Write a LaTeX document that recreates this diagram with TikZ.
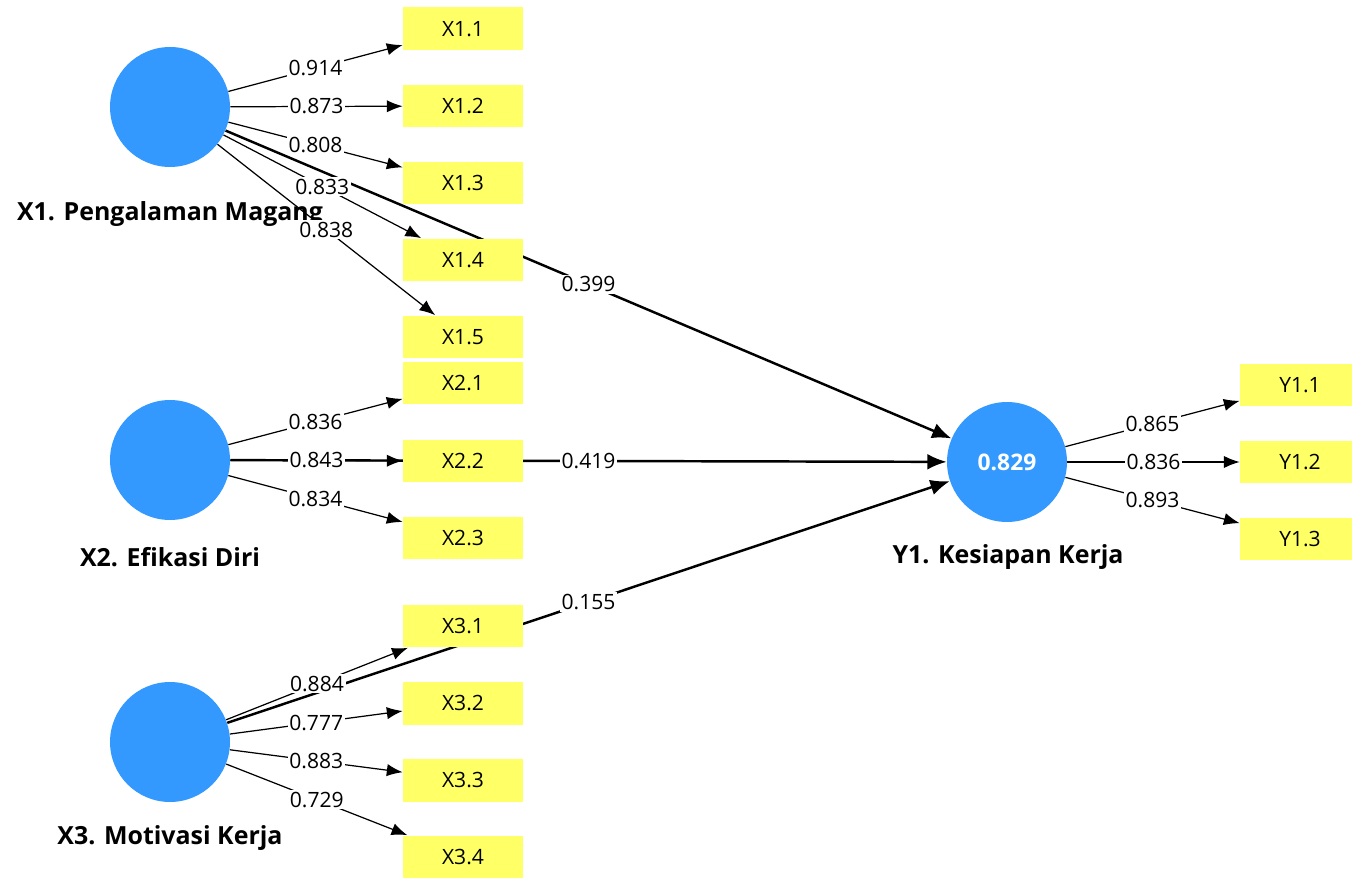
\documentclass[tikz,border=0pt]{standalone}
\usepackage{fontspec}
\setmainfont{Open Sans}
\usetikzlibrary{arrows.meta}
\definecolor{lvblue}{RGB}{51,153,255}
\definecolor{mvyellow}{RGB}{255,255,102}
\pgfdeclarelayer{bg}
\pgfsetlayers{bg,main}
\begin{document}
\begin{tikzpicture}[x=0.02cm,y=-0.02cm,
        latent/.style={circle,fill=lvblue,minimum size=2.4cm,inner sep=0pt,text=white,font=\fontsize{13}{15}\selectfont\bfseries},
        indic/.style={fill=mvyellow,minimum width=2.4cm,minimum height=0.86cm,inner sep=0pt,font=\fontsize{12}{14}\selectfont},
        lvname/.style={font=\fontsize{14.2}{16}\selectfont\bfseries},
        lbl/.style={fill=white,inner sep=1pt,font=\fontsize{12}{14}\selectfont},
        loadarrow/.style={-{Latex[length=9pt,width=7pt]},line width=0.7pt},
        structarrow/.style={-{Latex[length=11pt,width=9pt]},line width=1.4pt}]
        \useasboundingbox (0,0) rectangle (1352,878);
        % latent variables
        \node[latent] (x1) at (170,107) {};
        \node[latent] (x2) at (170,460) {};
        \node[latent] (x3) at (170,742) {};
        \node[latent] (y1) at (1007,462) {0.829};
        % indicators
        \foreach \i/\y in {1/29,2/106,3/183,4/260,5/337}
            \node[indic] (x1-\i) at (463,\y) {X1.\i};
        \foreach \i/\y in {1/383,2/461,3/538}
            \node[indic] (x2-\i) at (463,\y) {X2.\i};
        \foreach \i/\y in {1/626,2/703,3/780,4/857}
            \node[indic] (x3-\i) at (463,\y) {X3.\i};
        \foreach \i/\y in {1/385,2/462,3/539}
            \node[indic] (y1-\i) at (1300,\y) {Y1.\i};
        \begin{pgfonlayer}{bg}
            \node[lvname] (x1n) at (170,214) {X1. Pengalaman Magang};
            \node[lvname] (x2n) at (170,557) {X2. Efikasi Diri};
            \node[lvname] (x3n) at (170,838) {X3. Motivasi Kerja};
            \node[lvname] (y1n) at (1008,557) {Y1. Kesiapan Kerja};
            % path coefficients
            \draw[structarrow] (x1) -- node[lbl] {0.399} (y1);
            \draw[structarrow] (x2) -- node[lbl] {0.419} (y1);
            \draw[structarrow] (x3) -- node[lbl] {0.155} (y1);
            % outer loadings
            \foreach \i/\v in {1/0.914,2/0.873,3/0.808,4/0.833,5/0.838}
                \draw[loadarrow] (x1) -- node[lbl] {\v} (x1-\i);
            \foreach \i/\v in {1/0.836,2/0.843,3/0.834}
                \draw[loadarrow] (x2) -- node[lbl] {\v} (x2-\i);
            \foreach \i/\v in {1/0.884,2/0.777,3/0.883,4/0.729}
                \draw[loadarrow] (x3) -- node[lbl] {\v} (x3-\i);
            \foreach \i/\v in {1/0.865,2/0.836,3/0.893}
                \draw[loadarrow] (y1) -- node[lbl] {\v} (y1-\i);
        \end{pgfonlayer}
\end{tikzpicture}
\end{document}
